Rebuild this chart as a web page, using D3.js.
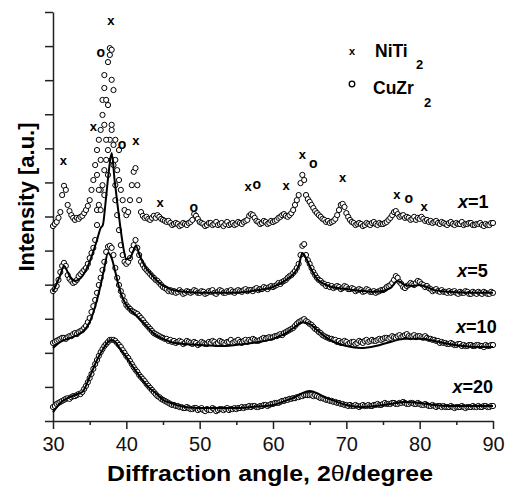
<!DOCTYPE html>
<html>
<head>
<meta charset="utf-8">
<script src="https://cdn.jsdelivr.net/npm/d3@7"></script>
<style>
  body { margin: 0; background: #fff; }
  text { font-family: Arial, "Liberation Sans", sans-serif; }
</style>
</head>
<body>
<div id="chart-container"></div>
<script>
const width = 507;
const height = 488;

// x-axis ticks (2theta, degrees)
const majorTicks = [30, 40, 50, 60, 70, 80, 90];
const minorTicks = [35, 45, 55, 65, 75, 85];
const yTicks = [0, 1, 2, 3, 4, 5, 6, 7, 8, 9, 10, 11, 12];

// measured patterns, [2theta, intensity a.u.] (curves already offset)
const obs1 = [[30,5.72],[30.25,5.78],[30.5,5.84],[30.75,5.96],[31,6.13],[31.25,6.63],[31.5,6.90],[31.75,6.78],[32,6.34],[32.25,6.16],[32.5,6.04],[32.75,5.96],[33,5.90],[33.25,5.96],[33.5,5.93],[33.75,5.99],[34,6.02],[34.25,6.10],[34.5,6.19],[34.75,6.31],[35,6.48],[35.25,6.78],[35.5,7.07],[35.75,7.51],[36,7.95],[36,7.22],[36.25,8.25],[36.25,6.78],[36.5,8.54],[36.5,7.66],[36.75,8.98],[36.75,9.42],[37,9.77],[37,8.69],[37,10.15],[37.25,9.42],[37.25,8.25],[37.5,10.53],[37.5,9.27],[37.75,10.74],[37.75,10.94],[38,10.89],[38,10.01],[38,8.69],[38.25,9.71],[38.25,8.10],[38.5,8.25],[38.5,7.66],[38.75,7.36],[39,7.07],[39,7.95],[39.25,6.78],[39.5,6.48],[39.75,6.19],[40,6.04],[40.25,6.13],[40.5,6.48],[40.75,6.92],[41,7.31],[41.25,7.42],[41.5,6.92],[41.75,6.48],[42,6.13],[42.25,6.02],[42.5,5.96],[42.75,5.99],[43,5.93],[43.25,5.90],[43.5,5.96],[43.75,6.02],[44,5.96],[44.25,6.04],[44.5,5.99],[44.75,5.93],[45,5.90],[45.25,5.87],[45.5,5.84],[45.75,5.87],[46,5.81],[46.25,5.75],[46.5,5.78],[46.75,5.81],[47,5.78],[47.25,5.72],[47.5,5.75],[47.75,5.81],[48,5.78],[48.25,5.75],[48.5,5.81],[48.75,5.84],[49,5.90],[49.25,6.07],[49.5,6.02],[49.75,5.93],[50,5.84],[50.25,5.81],[50.5,5.78],[50.75,5.72],[51,5.75],[51.25,5.81],[51.5,5.81],[51.75,5.75],[52,5.78],[52.25,5.84],[52.5,5.75],[52.75,5.78],[53,5.81],[53.25,5.72],[53.5,5.78],[53.75,5.84],[54,5.75],[54.25,5.78],[54.5,5.81],[54.75,5.75],[55,5.78],[55.25,5.84],[55.5,5.81],[55.75,5.78],[56,5.84],[56.25,5.87],[56.5,5.90],[56.75,6.02],[57,6.07],[57.25,6.04],[57.5,5.96],[57.75,5.87],[58,5.84],[58.25,5.78],[58.5,5.81],[58.75,5.87],[59,5.84],[59.25,5.78],[59.5,5.81],[59.75,5.87],[60,5.84],[60.25,5.87],[60.5,5.90],[60.75,5.96],[61,5.99],[61.25,6.04],[61.5,6.07],[61.75,6.02],[62,5.99],[62.25,6.04],[62.5,6.10],[62.75,6.19],[63,6.34],[63.25,6.48],[63.5,6.63],[63.75,6.98],[64,7.22],[64.25,7.07],[64.5,6.63],[64.75,6.51],[65,6.43],[65.25,6.34],[65.5,6.25],[65.75,6.16],[66,6.10],[66.25,6.04],[66.5,5.99],[66.75,5.93],[67,5.90],[67.25,5.84],[67.5,5.87],[67.75,5.81],[68,5.84],[68.25,5.87],[68.5,5.93],[68.75,6.04],[69,6.19],[69.25,6.34],[69.5,6.37],[69.75,6.28],[70,6.10],[70.25,5.99],[70.5,5.90],[70.75,5.84],[71,5.81],[71.25,5.75],[71.5,5.78],[71.75,5.81],[72,5.78],[72.25,5.72],[72.5,5.75],[72.75,5.81],[73,5.78],[73.25,5.75],[73.5,5.81],[73.75,5.84],[74,5.78],[74.25,5.75],[74.5,5.81],[74.75,5.78],[75,5.78],[75.25,5.81],[75.5,5.84],[75.75,5.90],[76,5.96],[76.25,6.04],[76.5,6.13],[76.75,6.16],[77,6.07],[77.25,5.99],[77.5,6.02],[77.75,6.04],[78,5.96],[78.25,5.99],[78.5,5.96],[78.75,5.90],[79,5.93],[79.25,5.99],[79.5,5.90],[79.75,5.96],[80,5.93],[80.25,5.99],[80.5,5.93],[80.75,5.87],[81,5.90],[81.25,5.84],[81.5,5.87],[81.75,5.81],[82,5.84],[82.25,5.87],[82.5,5.81],[82.75,5.78],[83,5.84],[83.25,5.81],[83.5,5.78],[83.75,5.75],[84,5.81],[84.25,5.84],[84.5,5.78],[84.75,5.75],[85,5.81],[85.25,5.78],[85.5,5.78],[85.75,5.84],[86,5.75],[86.25,5.78],[86.5,5.78],[86.75,5.81],[87,5.81],[87.25,5.75],[87.5,5.75],[87.75,5.78],[88,5.78],[88.25,5.81],[88.5,5.75],[88.75,5.72],[89,5.78],[89.25,5.75],[89.5,5.75],[89.75,5.81],[90,5.81]];

const obs5 = [[30,3.81],[30.25,3.87],[30.5,3.96],[30.75,4.14],[31,4.37],[31.25,4.55],[31.5,4.64],[31.75,4.55],[32,4.28],[32.25,4.17],[32.5,4.11],[32.75,4.05],[33,4.08],[33.25,4.14],[33.5,4.25],[33.75,4.31],[34,4.37],[34.25,4.43],[34.5,4.49],[34.75,4.61],[35,4.78],[35.25,4.93],[35.5,5.08],[35.75,5.31],[36,5.75],[36,6.19],[36.25,6.34],[36.5,6.78],[36.5,6.19],[36.75,6.92],[37,7.36],[37,6.63],[37.25,7.66],[37.5,7.95],[37.5,7.22],[37.75,8.25],[38,8.54],[38,7.66],[38.25,7.51],[38.5,6.92],[38.5,6.48],[38.75,6.04],[39,5.60],[39.25,5.16],[39.5,4.87],[39.75,4.67],[40,4.61],[40.25,4.67],[40.5,4.78],[40.75,5.02],[41,5.16],[41.25,5.31],[41.5,5.08],[41.75,4.87],[42,4.67],[42.25,4.58],[42.5,4.49],[42.75,4.43],[43,4.37],[43.25,4.31],[43.5,4.25],[43.75,4.20],[44,4.14],[44.25,4.11],[44.5,4.05],[44.75,3.99],[45,3.93],[45.25,3.90],[45.5,3.87],[45.75,3.81],[46,3.84],[46.25,3.79],[46.5,3.81],[46.75,3.76],[47,3.79],[47.25,3.84],[47.5,3.79],[47.75,3.73],[48,3.76],[48.25,3.81],[48.5,3.79],[48.75,3.76],[49,3.79],[49.25,3.84],[49.5,3.81],[49.75,3.76],[50,3.76],[50.25,3.81],[50.5,3.79],[50.75,3.73],[51,3.76],[51.25,3.81],[51.5,3.79],[51.75,3.84],[52,3.76],[52.25,3.73],[52.5,3.79],[52.75,3.84],[53,3.81],[53.25,3.76],[53.5,3.76],[53.75,3.81],[54,3.79],[54.25,3.84],[54.5,3.79],[54.75,3.76],[55,3.81],[55.25,3.84],[55.5,3.81],[55.75,3.79],[56,3.84],[56.25,3.87],[56.5,3.81],[56.75,3.84],[57,3.84],[57.25,3.81],[57.5,3.87],[57.75,3.90],[58,3.84],[58.25,3.87],[58.5,3.87],[58.75,3.93],[59,3.90],[59.25,3.87],[59.5,3.93],[59.75,3.96],[60,3.93],[60.25,3.96],[60.5,3.99],[60.75,4.05],[61,4.02],[61.25,4.08],[61.5,4.11],[61.75,4.14],[62,4.20],[62.25,4.25],[62.5,4.28],[62.75,4.34],[63,4.40],[63.25,4.49],[63.5,4.61],[63.75,4.87],[64,5.14],[64.25,5.19],[64.5,4.87],[64.75,4.72],[65,4.61],[65.25,4.49],[65.5,4.37],[65.75,4.28],[66,4.20],[66.25,4.14],[66.5,4.11],[66.75,4.05],[67,4.02],[67.25,3.96],[67.5,3.99],[67.75,3.93],[68,3.96],[68.25,3.90],[68.5,3.93],[68.75,3.96],[69,3.93],[69.25,3.87],[69.5,3.90],[69.75,3.96],[70,3.93],[70.25,3.87],[70.5,3.87],[70.75,3.90],[71,3.87],[71.25,3.81],[71.5,3.84],[71.75,3.87],[72,3.84],[72.25,3.79],[72.5,3.81],[72.75,3.87],[73,3.84],[73.25,3.79],[73.5,3.79],[73.75,3.81],[74,3.76],[74.25,3.79],[74.5,3.81],[74.75,3.84],[75,3.84],[75.25,3.87],[75.5,3.93],[75.75,3.96],[76,3.99],[76.25,4.05],[76.5,4.14],[76.75,4.25],[77,4.20],[77.25,4.08],[77.5,4.02],[77.75,3.93],[78,3.90],[78.25,3.96],[78.5,3.99],[78.75,4.05],[79,4.02],[79.25,3.99],[79.5,4.05],[79.75,4.11],[80,4.08],[80.25,4.02],[80.5,3.99],[80.75,3.93],[81,3.96],[81.25,3.90],[81.5,3.87],[81.75,3.81],[82,3.84],[82.25,3.87],[82.5,3.81],[82.75,3.79],[83,3.84],[83.25,3.79],[83.5,3.79],[83.75,3.76],[84,3.81],[84.25,3.76],[84.5,3.79],[84.75,3.81],[85,3.76],[85.25,3.73],[85.5,3.79],[85.75,3.76],[86,3.76],[86.25,3.81],[86.5,3.79],[86.75,3.73],[87,3.73],[87.25,3.79],[87.5,3.76],[87.75,3.73],[88,3.79],[88.25,3.76],[88.5,3.73],[88.75,3.79],[89,3.76],[89.25,3.73],[89.5,3.73],[89.75,3.79],[90,3.76]];

const obs10 = [[30,2.29],[30.25,2.32],[30.5,2.35],[30.75,2.38],[31,2.41],[31.25,2.44],[31.5,2.44],[31.75,2.41],[32,2.46],[32.25,2.49],[32.5,2.49],[32.75,2.55],[33,2.58],[33.25,2.55],[33.5,2.61],[33.75,2.64],[34,2.67],[34.25,2.73],[34.5,2.79],[34.75,2.90],[35,3.02],[35.25,3.20],[35.5,3.37],[35.75,3.55],[36,3.76],[36.25,3.99],[36.5,4.20],[36.75,4.43],[37,4.67],[37.25,4.96],[37.5,5.11],[37.75,5.14],[38,5.08],[38.25,4.87],[38.5,4.49],[38.75,4.20],[39,3.99],[39.25,3.81],[39.5,3.67],[39.75,3.52],[40,3.40],[40.25,3.34],[40.5,3.29],[40.75,3.23],[41,3.20],[41.25,3.17],[41.5,3.14],[41.75,3.08],[42,3.02],[42.25,2.96],[42.5,2.88],[42.75,2.82],[43,2.76],[43.25,2.70],[43.5,2.64],[43.75,2.58],[44,2.55],[44.25,2.52],[44.5,2.49],[44.75,2.46],[45,2.44],[45.25,2.41],[45.5,2.41],[45.75,2.35],[46,2.38],[46.25,2.32],[46.5,2.35],[46.75,2.29],[47,2.32],[47.25,2.35],[47.5,2.32],[47.75,2.26],[48,2.29],[48.25,2.35],[48.5,2.32],[48.75,2.29],[49,2.26],[49.25,2.32],[49.5,2.29],[49.75,2.23],[50,2.26],[50.25,2.32],[50.5,2.29],[50.75,2.26],[51,2.26],[51.25,2.32],[51.5,2.29],[51.75,2.35],[52,2.32],[52.25,2.26],[52.5,2.29],[52.75,2.35],[53,2.32],[53.25,2.29],[53.5,2.26],[53.75,2.32],[54,2.32],[54.25,2.38],[54.5,2.29],[54.75,2.32],[55,2.35],[55.25,2.38],[55.5,2.32],[55.75,2.29],[56,2.35],[56.25,2.38],[56.5,2.32],[56.75,2.38],[57,2.35],[57.25,2.41],[57.5,2.38],[57.75,2.35],[58,2.35],[58.25,2.38],[58.5,2.41],[58.75,2.44],[59,2.41],[59.25,2.44],[59.5,2.46],[59.75,2.44],[60,2.46],[60.25,2.49],[60.5,2.49],[60.75,2.52],[61,2.55],[61.25,2.52],[61.5,2.58],[61.75,2.61],[62,2.64],[62.25,2.67],[62.5,2.70],[62.75,2.73],[63,2.79],[63.25,2.85],[63.5,2.90],[63.75,2.93],[64,2.96],[64.25,2.99],[64.5,2.93],[64.75,2.90],[65,2.85],[65.25,2.82],[65.5,2.76],[65.75,2.70],[66,2.67],[66.25,2.61],[66.5,2.58],[66.75,2.52],[67,2.49],[67.25,2.46],[67.5,2.44],[67.75,2.41],[68,2.41],[68.25,2.38],[68.5,2.38],[68.75,2.32],[69,2.35],[69.25,2.29],[69.5,2.32],[69.75,2.35],[70,2.32],[70.25,2.26],[70.5,2.29],[70.75,2.32],[71,2.32],[71.25,2.26],[71.5,2.29],[71.75,2.35],[72,2.32],[72.25,2.29],[72.5,2.35],[72.75,2.38],[73,2.32],[73.25,2.35],[73.5,2.38],[73.75,2.35],[74,2.35],[74.25,2.38],[74.5,2.41],[74.75,2.38],[75,2.41],[75.25,2.44],[75.5,2.44],[75.75,2.41],[76,2.44],[76.25,2.49],[76.5,2.46],[76.75,2.44],[77,2.49],[77.25,2.52],[77.5,2.46],[77.75,2.49],[78,2.52],[78.25,2.55],[78.5,2.49],[78.75,2.46],[79,2.49],[79.25,2.52],[79.5,2.46],[79.75,2.49],[80,2.49],[80.25,2.46],[80.5,2.44],[80.75,2.49],[81,2.44],[81.25,2.41],[81.5,2.41],[81.75,2.38],[82,2.38],[82.25,2.35],[82.5,2.35],[82.75,2.29],[83,2.32],[83.25,2.29],[83.5,2.29],[83.75,2.26],[84,2.26],[84.25,2.29],[84.5,2.26],[84.75,2.23],[85,2.23],[85.25,2.26],[85.5,2.26],[85.75,2.20],[86,2.23],[86.25,2.20],[86.5,2.20],[86.75,2.23],[87,2.23],[87.25,2.20],[87.5,2.20],[87.75,2.23],[88,2.23],[88.25,2.20],[88.5,2.20],[88.75,2.17],[89,2.23],[89.25,2.20],[89.5,2.20],[89.75,2.23],[90,2.23]];

const obs20 = [[30,0.41],[30.25,0.44],[30.5,0.50],[30.75,0.53],[31,0.56],[31.25,0.59],[31.5,0.62],[31.75,0.65],[32,0.67],[32.25,0.65],[32.5,0.70],[32.75,0.73],[33,0.73],[33.25,0.76],[33.5,0.79],[33.75,0.79],[34,0.85],[34.25,0.94],[34.5,1.03],[34.75,1.14],[35,1.26],[35.25,1.38],[35.5,1.53],[35.75,1.67],[36,1.79],[36.25,1.91],[36.5,2.02],[36.75,2.11],[37,2.20],[37.25,2.26],[37.5,2.32],[37.75,2.38],[38,2.38],[38.25,2.38],[38.5,2.35],[38.75,2.29],[39,2.23],[39.25,2.17],[39.5,2.08],[39.75,2.00],[40,1.91],[40.25,1.85],[40.5,1.76],[40.75,1.67],[41,1.58],[41.25,1.50],[41.5,1.44],[41.75,1.35],[42,1.29],[42.25,1.23],[42.5,1.17],[42.75,1.09],[43,1.03],[43.25,0.97],[43.5,0.91],[43.75,0.85],[44,0.79],[44.25,0.73],[44.5,0.70],[44.75,0.65],[45,0.62],[45.25,0.59],[45.5,0.56],[45.75,0.53],[46,0.50],[46.25,0.47],[46.5,0.47],[46.75,0.44],[47,0.44],[47.25,0.41],[47.5,0.41],[47.75,0.38],[48,0.38],[48.25,0.41],[48.5,0.38],[48.75,0.35],[49,0.35],[49.25,0.38],[49.5,0.38],[49.75,0.32],[50,0.35],[50.25,0.38],[50.5,0.32],[50.75,0.29],[51,0.35],[51.25,0.32],[51.5,0.32],[51.75,0.38],[52,0.35],[52.25,0.29],[52.5,0.32],[52.75,0.35],[53,0.35],[53.25,0.32],[53.5,0.35],[53.75,0.38],[54,0.32],[54.25,0.35],[54.5,0.35],[54.75,0.38],[55,0.35],[55.25,0.38],[55.5,0.38],[55.75,0.41],[56,0.38],[56.25,0.41],[56.5,0.41],[56.75,0.44],[57,0.41],[57.25,0.44],[57.5,0.44],[57.75,0.41],[58,0.41],[58.25,0.44],[58.5,0.44],[58.75,0.47],[59,0.47],[59.25,0.44],[59.5,0.47],[59.75,0.50],[60,0.50],[60.25,0.53],[60.5,0.53],[60.75,0.53],[61,0.56],[61.25,0.59],[61.5,0.59],[61.75,0.62],[62,0.62],[62.25,0.65],[62.5,0.65],[62.75,0.67],[63,0.67],[63.25,0.70],[63.5,0.70],[63.75,0.73],[64,0.73],[64.25,0.76],[64.5,0.76],[64.75,0.76],[65,0.76],[65.25,0.76],[65.5,0.73],[65.75,0.76],[66,0.73],[66.25,0.70],[66.5,0.67],[66.75,0.67],[67,0.65],[67.25,0.62],[67.5,0.62],[67.75,0.59],[68,0.59],[68.25,0.56],[68.5,0.56],[68.75,0.53],[69,0.53],[69.25,0.50],[69.5,0.50],[69.75,0.47],[70,0.47],[70.25,0.44],[70.5,0.47],[70.75,0.44],[71,0.44],[71.25,0.47],[71.5,0.44],[71.75,0.41],[72,0.44],[72.25,0.47],[72.5,0.44],[72.75,0.44],[73,0.47],[73.25,0.44],[73.5,0.44],[73.75,0.47],[74,0.47],[74.25,0.50],[74.5,0.47],[74.75,0.47],[75,0.50],[75.25,0.53],[75.5,0.50],[75.75,0.50],[76,0.50],[76.25,0.53],[76.5,0.53],[76.75,0.50],[77,0.50],[77.25,0.53],[77.5,0.53],[77.75,0.56],[78,0.53],[78.25,0.50],[78.5,0.50],[78.75,0.53],[79,0.53],[79.25,0.50],[79.5,0.50],[79.75,0.53],[80,0.50],[80.25,0.47],[80.5,0.47],[80.75,0.50],[81,0.47],[81.25,0.44],[81.5,0.44],[81.75,0.47],[82,0.44],[82.25,0.41],[82.5,0.44],[82.75,0.44],[83,0.41],[83.25,0.44],[83.5,0.41],[83.75,0.41],[84,0.41],[84.25,0.44],[84.5,0.41],[84.75,0.38],[85,0.41],[85.25,0.41],[85.5,0.41],[85.75,0.44],[86,0.41],[86.25,0.38],[86.5,0.41],[86.75,0.41],[87,0.41],[87.25,0.44],[87.5,0.41],[87.75,0.41],[88,0.44],[88.25,0.41],[88.5,0.41],[88.75,0.44],[89,0.44],[89.25,0.41],[89.5,0.41],[89.75,0.44],[90,0.44]];

// fitted profiles (solid lines)
const fit5 = [[30,3.79],[31,4.28],[31.5,4.55],[32,4.37],[32.5,4.17],[33,4.11],[34,4.25],[35,4.67],[36,5.31],[36.5,5.66],[36.8,5.75],[37.2,6.48],[37.6,7.31],[38,7.86],[38.4,7.07],[38.8,6.34],[39.2,5.66],[39.6,5.08],[40,4.75],[40.5,4.78],[41,5.02],[41.3,5.14],[41.8,4.87],[42.5,4.55],[43.5,4.28],[44.5,4.05],[46,3.87],[48,3.79],[50,3.76],[54,3.76],[57,3.81],[60,3.93],[62,4.17],[63,4.37],[63.5,4.55],[64,4.93],[64.5,4.78],[65,4.55],[65.5,4.34],[66,4.17],[67,4.02],[68,3.93],[70,3.87],[74,3.79],[76,3.90],[77,4.11],[78,3.99],[79,3.96],[80,3.99],[81,3.93],[82,3.84],[84,3.79],[87,3.76],[90,3.76]];

const fit10 = [[30,2.14],[31,2.32],[32,2.41],[33,2.49],[34,2.61],[35,2.90],[36,3.55],[36.5,3.99],[37,4.49],[37.5,4.93],[38,4.78],[38.5,4.37],[39,3.93],[39.5,3.61],[40,3.40],[41,3.17],[42,2.96],[43,2.73],[44,2.52],[45,2.41],[46,2.32],[48,2.26],[50,2.23],[53,2.20],[56,2.26],[58,2.32],[60,2.41],[62,2.61],[63,2.76],[64,2.90],[65,2.85],[66,2.67],[67,2.49],[68,2.35],[70,2.20],[72,2.14],[74,2.20],[76,2.32],[78,2.41],[80,2.41],[82,2.35],[84,2.26],[86,2.20],[88,2.17],[90,2.17]];

const fit20 = [[30,0.26],[31,0.53],[32,0.67],[33,0.76],[34,0.85],[35,1.29],[36,1.79],[37,2.17],[37.5,2.32],[38,2.38],[38.5,2.32],[39,2.17],[40,1.88],[41,1.56],[42,1.26],[43,1.00],[44,0.82],[45,0.62],[46,0.53],[48,0.41],[50,0.38],[55,0.38],[57,0.41],[60,0.47],[62,0.62],[63,0.70],[64,0.82],[65,0.88],[66,0.82],[67,0.70],[68,0.62],[70,0.47],[72,0.41],[74,0.44],[76,0.50],[78,0.56],[80,0.53],[82,0.47],[84,0.44],[86,0.44],[88,0.44],[90,0.44]];

// phase markers above reflections
const niti2Peaks = [[31.4,7.63],[35.5,8.63],[37.9,11.74],[41.3,8.22],[44.6,6.40],[56.6,6.87],[61.8,6.90],[64.0,7.81],[69.5,7.13],[76.9,6.63],[80.6,6.28]];
const cuzr2Peaks = [[36.5,10.80],[39.4,8.10],[49.2,6.25],[57.8,6.92],[65.5,7.54],[78.5,6.51]];

// composition labels [text, 2theta at right end, baseline]
const curveLabels = [["1", 89.4, 6.25], ["5", 89.3, 4.23], ["10", 90.5, 2.58], ["20", 90.0, 0.82]];

const x = d3.scaleLinear([30, 90], [53, 493]);
const y = d3.scaleLinear([0, 12], [421, 12]);

const svg = d3.select("#chart-container")
    .append("svg")
    .attr("viewBox", [0, 0, width, height])
    .attr("width", width)
    .attr("height", height);

// axes
const axisColor = "#222";

const gx = svg.append("g")
    .attr("transform", `translate(0,${y(0)})`)
    .call(d3.axisBottom(x).tickValues(majorTicks).tickSize(8).tickSizeOuter(0).tickFormat(d3.format("d")));
gx.append("g")
    .call(d3.axisBottom(x).tickValues(minorTicks).tickSize(4).tickFormat(""))
    .select(".domain").remove();
gx.selectAll("path, line").attr("stroke", axisColor).attr("stroke-width", 1.5);
gx.selectAll("text")
    .attr("y", 16)
    .attr("dy", "0.71em")
    .attr("font-size", 20)
    .attr("font-family", "Arial, 'Liberation Sans', sans-serif")
    .attr("fill", "#111");

const gy = svg.append("g")
    .attr("transform", `translate(${x(30)},0)`)
    .call(d3.axisLeft(y).tickValues(yTicks).tickSize(8).tickSizeOuter(0).tickFormat(""));
gy.selectAll("path, line").attr("stroke", axisColor).attr("stroke-width", 1.5);

// axis titles
const xTitle = svg.append("text")
    .attr("x", 270)
    .attr("y", 481)
    .attr("text-anchor", "middle")
    .attr("font-size", 22.5)
    .attr("font-weight", "bold")
    .attr("textLength", 326)
    .attr("lengthAdjust", "spacingAndGlyphs");
xTitle.append("tspan").text("Diffraction angle, 2");
xTitle.append("tspan").attr("font-weight", "normal").text("θ");
xTitle.append("tspan").text("/degree");

svg.append("text")
    .attr("transform", `translate(34,197) rotate(-90)`)
    .attr("text-anchor", "middle")
    .attr("font-size", 22)
    .attr("font-weight", "bold")
    .text("Intensity [a.u.]");

// data
const series = [obs20, obs10, obs5, obs1];
const fits = [fit20, fit10, fit5];

const plot = svg.append("g");

series.forEach(s => {
    plot.append("g")
        .selectAll("circle")
        .data(s)
        .join("circle")
        .attr("cx", d => x(d[0]))
        .attr("cy", d => y(d[1]))
        .attr("r", 2.6)
        .attr("fill", "#fff")
        .attr("stroke", "#000")
        .attr("stroke-width", 1);
});

const line = d3.line()
    .x(d => x(d[0]))
    .y(d => y(d[1]))
    .curve(d3.curveMonotoneX);

plot.selectAll("path.fit")
    .data(fits)
    .join("path")
    .attr("class", "fit")
    .attr("d", line)
    .attr("fill", "none")
    .attr("stroke", "#000")
    .attr("stroke-width", 2);

// peak markers
svg.append("g")
    .selectAll("text")
    .data(niti2Peaks)
    .join("text")
    .attr("x", d => x(d[0]))
    .attr("y", d => y(d[1]))
    .attr("dy", "0.3em")
    .attr("text-anchor", "middle")
    .attr("font-size", 13)
    .attr("font-weight", "bold")
    .text("x");

svg.append("g")
    .selectAll("text")
    .data(cuzr2Peaks)
    .join("text")
    .attr("x", d => x(d[0]))
    .attr("y", d => y(d[1]))
    .attr("dy", "0.3em")
    .attr("text-anchor", "middle")
    .attr("font-size", 14)
    .attr("font-weight", "bold")
    .text("o");

// composition labels
curveLabels.forEach(([n, a, v]) => {
    const t = svg.append("text")
        .attr("x", x(a))
        .attr("y", y(v))
        .attr("text-anchor", "end")
        .attr("font-size", 18)
        .attr("font-weight", "bold");
    t.append("tspan").attr("font-style", "italic").text("x");
    t.append("tspan").text("=" + n);
});

// legend
const legend = svg.append("g");
legend.append("text")
    .attr("x", 352).attr("y", 55)
    .attr("text-anchor", "middle")
    .attr("font-size", 11)
    .attr("font-weight", "bold")
    .text("x");
legend.append("circle")
    .attr("cx", 352).attr("cy", 84)
    .attr("r", 2.8)
    .attr("fill", "#fff")
    .attr("stroke", "#000")
    .attr("stroke-width", 1.3);
[["NiTi", 375, 57, 416, 69], ["CuZr", 373, 94, 424, 107]].forEach(([name, tx, ty, sx, sy]) => {
    legend.append("text")
        .attr("x", tx).attr("y", ty)
        .attr("font-size", 17.5)
        .attr("font-weight", "bold")
        .text(name);
    legend.append("text")
        .attr("x", sx).attr("y", sy)
        .attr("font-size", 13)
        .attr("font-weight", "bold")
        .text("2");
});
</script>
</body>
</html>
